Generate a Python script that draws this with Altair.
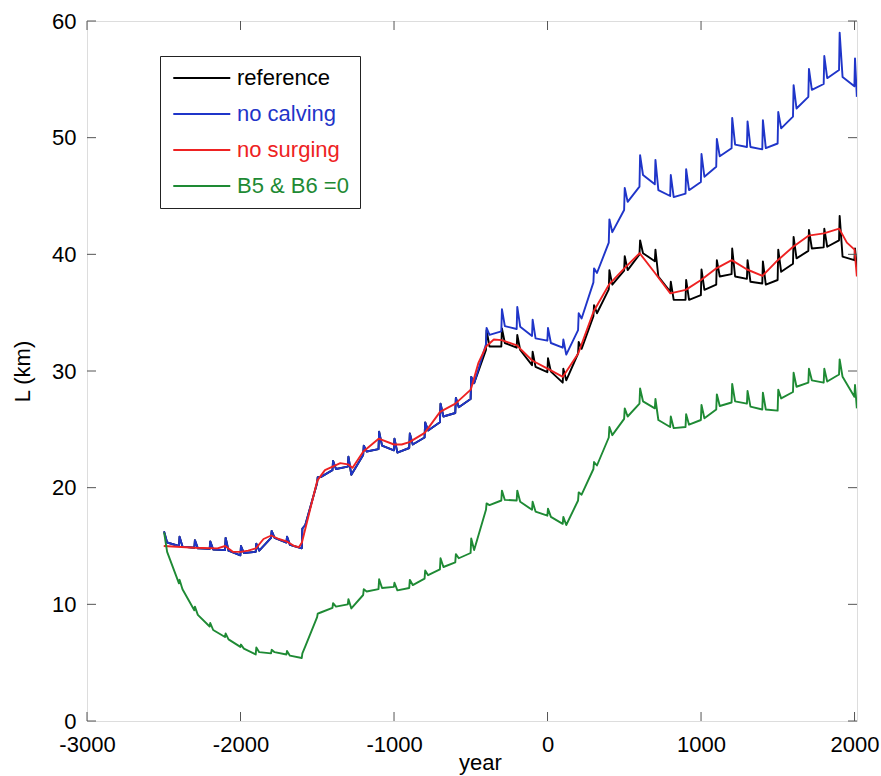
import altair as alt
import pandas as pd

FONT = "Liberation Sans"

CENTURIES = [-2500, -2400, -2300, -2200, -2100, -2000, -1900, -1800, -1700, -1600,
             -1500, -1400, -1300, -1200, -1100, -1000, -900, -800, -700, -600,
             -500, -400, -300, -200, -100, 0, 100, 200, 300, 400,
             500, 600, 700, 800, 900, 1000, 1100, 1200, 1300, 1400,
             1500, 1600, 1700, 1800, 1900, 2000]
END_YEAR = 2015

# no calving (blue): value just before each surge, surge peak, value after the surge
BLUE_PRE = [16.2, 15.0, 14.85, 14.75, 14.65, 14.2, 14.5, 15.7, 15.3, 14.8,
            20.4, 21.5, 21.8, 22.8, 23.3, 23.2, 23.4, 24.3, 25.6, 26.4,
            27.6, 32.3, 33.4, 33.6, 33.0, 32.6, 32.0, 33.5, 37.6, 41.0,
            43.8, 45.8, 46.0, 45.0, 45.2, 46.2, 47.5, 49.1, 49.2, 49.0,
            49.5, 51.8, 53.5, 54.6, 55.8, 54.4]
BLUE_PEAK = [16.2, 15.8, 15.5, 15.4, 15.7, 15.0, 15.2, 16.3, 15.8, 16.5,
             20.9, 22.3, 22.65, 23.6, 24.8, 24.2, 24.65, 25.6, 27.2, 27.7,
             29.5, 33.7, 35.3, 35.5, 34.4, 33.7, 32.7, 34.95, 38.8, 43.0,
             45.7, 48.5, 48.1, 46.8, 47.3, 48.6, 49.9, 51.7, 51.4, 51.5,
             52.2, 54.5, 55.9, 57.0, 59.0, 56.8]
BLUE_POST = [15.3, 14.95, 14.8, 14.7, 14.6, 14.4, 14.6, 15.7, 15.1, 16.8,
             20.9, 21.6, 21.1, 23.1, 23.6, 23.0, 23.7, 24.9, 26.1, 26.9,
             28.95, 33.1, 33.85, 33.8, 32.8, 32.4, 31.4, 34.5, 38.4, 41.9,
             44.5, 46.8, 45.5, 44.9, 45.5, 46.65, 48.4, 49.4, 49.2, 49.1,
             50.8, 52.5, 54.1, 55.1, 55.2, 53.5]

# reference (black)
BLACK_PRE = [16.2, 15.0, 14.85, 14.75, 14.65, 14.2, 14.5, 15.7, 15.3, 14.8,
             20.4, 21.5, 21.8, 22.8, 23.3, 23.2, 23.4, 24.3, 25.6, 26.4,
             27.6, 31.8, 32.1, 32.0, 30.5, 29.9, 29.0, 31.5, 34.7, 37.0,
             38.6, 40.0, 39.4, 36.8, 36.1, 36.5, 37.4, 38.3, 37.9, 37.5,
             37.8, 39.2, 40.3, 40.6, 41.2, 39.5]
BLACK_PEAK = [16.2, 15.8, 15.5, 15.4, 15.7, 15.0, 15.2, 16.3, 15.8, 16.5,
              20.9, 22.3, 22.65, 23.6, 24.8, 24.2, 24.65, 25.6, 27.2, 27.7,
              29.5, 33.5, 33.65, 33.1, 31.65, 31.1, 30.2, 32.5, 35.65, 38.65,
              39.85, 41.2, 40.4, 37.65, 37.8, 38.7, 39.5, 40.5, 39.5, 39.4,
              40.4, 41.5, 42.1, 42.2, 43.3, 40.5]
BLACK_POST = [15.3, 14.95, 14.8, 14.7, 14.6, 14.4, 14.6, 15.7, 15.1, 16.8,
              20.9, 21.6, 21.1, 23.1, 23.6, 23.0, 23.7, 24.9, 26.1, 26.9,
              28.95, 32.1, 32.4, 31.8, 30.35, 29.95, 29.2, 31.9, 34.95, 37.4,
              38.65, 40.1, 38.1, 36.1, 36.1, 36.95, 38.1, 38.1, 37.65, 37.4,
              38.5, 39.65, 40.5, 40.65, 39.8, 38.9]

# B5 & B6 = 0 (green)
GREEN_PRE = [16.1, 11.8, 9.5, 8.1, 7.2, 6.35, 5.7, 5.8, 5.7, 5.4,
             8.9, 9.7, 10.0, 10.8, 11.3, 11.5, 11.4, 12.2, 13.0, 13.6,
             14.4, 18.1, 18.9, 18.9, 18.1, 17.6, 16.9, 18.9, 21.6, 24.3,
             25.9, 27.2, 26.8, 25.2, 25.2, 25.8, 26.7, 27.3, 27.2, 26.7,
             26.6, 28.2, 29.0, 29.0, 29.7, 27.8]
GREEN_PEAK = [16.1, 12.1, 9.8, 8.4, 7.5, 6.55, 6.3, 6.1, 6.0, 5.8,
              9.2, 10.1, 10.45, 11.3, 12.15, 11.85, 12.1, 12.9, 13.95, 14.3,
              15.65, 18.65, 19.75, 19.75, 18.8, 18.2, 17.5, 19.6, 22.2, 25.2,
              26.8, 28.5, 27.6, 26.1, 26.3, 27.1, 28.0, 28.9, 28.3, 28.15,
              28.4, 29.85, 30.2, 30.2, 31.0, 28.8]
GREEN_POST = [14.5, 11.3, 9.1, 7.8, 7.0, 6.2, 5.9, 5.9, 5.6, 6.4,
              9.3, 9.8, 9.65, 11.1, 11.4, 11.2, 11.65, 12.5, 13.2, 13.95,
              14.65, 18.5, 18.95, 18.8, 17.95, 17.5, 16.8, 19.4, 21.9, 24.5,
              26.1, 27.4, 25.8, 25.1, 25.4, 25.95, 27.0, 27.4, 26.95, 26.7,
              27.65, 28.65, 29.2, 29.1, 29.5, 26.8]

# no surging (red): smooth curve
RED_YEARS = [-2500, -2300, -2150, -2100, -2050, -2000, -1950, -1900, -1850, -1800,
             -1750, -1700, -1650, -1620, -1600, -1500, -1450, -1400, -1350, -1300,
             -1270, -1200, -1100, -1000, -950, -900, -800, -700, -600, -500,
             -450, -400, -350, -300, -200, -100, 0, 100, 200, 300,
             400, 500, 600, 700, 800, 900, 1000, 1100, 1200, 1300,
             1400, 1500, 1600, 1700, 1800, 1900, 1950, 2000, 2015]
RED_L = [15.0, 14.85, 14.8, 15.0, 14.5, 14.5, 14.6, 14.8, 15.6, 15.9,
         15.6, 15.4, 15.0, 14.9, 15.3, 20.6, 21.5, 21.8, 22.1, 22.0,
         21.7, 23.1, 24.2, 23.7, 23.7, 23.9, 24.7, 26.5, 27.2, 28.4,
         30.7, 32.1, 32.7, 32.65, 32.2, 30.9, 30.2, 29.5, 31.5, 35.1,
         37.4, 38.8, 40.1, 38.4, 36.65, 36.95, 37.8, 38.8, 39.5, 38.7,
         38.15, 39.5, 40.65, 41.6, 41.8, 42.2, 41.0, 40.4, 38.1]

SERIES = ["reference", "no calving", "no surging", "B5 & B6 =0"]
COLORS = ["#000000", "#1f35c9", "#ee2222", "#1e8a34"]

X_TICKS = [-3000, -2000, -1000, 0, 1000, 2000]
Y_TICKS = [0, 10, 20, 30, 40, 50, 60]


def surge_rows(name, pre, peak, post):
    rows = []
    for i, c in enumerate(CENTURIES):
        rows.append({"year": c - 1, "L": pre[i], "series": name})
        rows.append({"year": c + 3, "L": peak[i], "series": name})
        rows.append({"year": min(c + 22, END_YEAR), "L": post[i], "series": name})
    return rows


rows = []
rows += surge_rows("reference", BLACK_PRE, BLACK_PEAK, BLACK_POST)
rows += surge_rows("no calving", BLUE_PRE, BLUE_PEAK, BLUE_POST)
rows += [{"year": y, "L": v, "series": "no surging"} for y, v in zip(RED_YEARS, RED_L)]
rows += surge_rows("B5 & B6 =0", GREEN_PRE, GREEN_PEAK, GREEN_POST)
df = pd.DataFrame(rows)

xscale = alt.Scale(domain=[-3000, 2016], nice=False, zero=False)
yscale = alt.Scale(domain=[0, 60], nice=False)

xaxis = alt.Axis(values=X_TICKS, labelExpr="'' + datum.value", ticks=False, domain=False,
                 grid=False, labelFontSize=22, labelFont=FONT, labelColor="#000",
                 labelPadding=13, labelFlush=False, labelOverlap=False, labelBound=False,
                 titleFontSize=22, titleFont=FONT, titleFontWeight="normal", titleColor="#000",
                 titleX=393, titleY=48, titleBaseline="alphabetic", titleAlign="center")
yaxis = alt.Axis(values=Y_TICKS, ticks=False, domain=False, grid=False,
                 labelFontSize=22, labelFont=FONT, labelColor="#000", labelPadding=11,
                 labelFlush=False, labelOverlap=False,
                 titleFontSize=22, titleFont=FONT, titleFontWeight="normal", titleColor="#000",
                 titleAngle=270, titleX=-58, titleY=350, titleBaseline="alphabetic",
                 titleAlign="center")

X = alt.X("year:Q", scale=xscale, axis=xaxis, title="year")
Y = alt.Y("L:Q", scale=yscale, axis=yaxis, title="L (km)")

# a short horizontal stroke drawn to the right of the symbol slot
legend = alt.Legend(title=None, orient="none", legendX=73, legendY=35,
                    symbolType="M-1.53,0H8.47", symbolSize=130, symbolStrokeWidth=1.8,
                    symbolFillColor="transparent",
                    labelFontSize=22, labelFont=FONT, labelOffset=44, labelLimit=400,
                    padding=11, rowPadding=14, strokeColor="#222", fillColor="white",
                    labelColor={"expr": "scale('color', datum.value)"})
C = alt.Color("series:N", scale=alt.Scale(domain=SERIES, range=COLORS), legend=legend)

base = alt.Chart(df)
layers = []
for name in SERIES:
    layers.append(
        base.transform_filter(alt.datum.series == name)
        .mark_line(strokeWidth=1.9, clip=True, strokeJoin="round")
        .encode(x=X, y=Y, color=C)
    )

tx = pd.DataFrame({"year": X_TICKS})
ty = pd.DataFrame({"L": Y_TICKS})
tick_style = dict(color="#555", strokeWidth=1)
ticks = [
    alt.Chart(tx).mark_rule(**tick_style).encode(x=X, y=alt.value(700), y2=alt.value(691)),
    alt.Chart(tx).mark_rule(**tick_style).encode(x=X, y=alt.value(0), y2=alt.value(9)),
    alt.Chart(ty).mark_rule(**tick_style).encode(y=Y, x=alt.value(0), x2=alt.value(9)),
    alt.Chart(ty).mark_rule(**tick_style).encode(y=Y, x=alt.value(770), x2=alt.value(761)),
]

chart = alt.layer(*layers, *ticks).properties(
    width=770, height=700,
    autosize=alt.AutoSizeParams(type="none"),
    padding={"left": 87, "top": 21, "right": 24, "bottom": 55},
).configure_view(stroke="#555", strokeWidth=1).configure(background="white")

chart.save("out.html", embed_options={"renderer": "svg", "actions": False})
